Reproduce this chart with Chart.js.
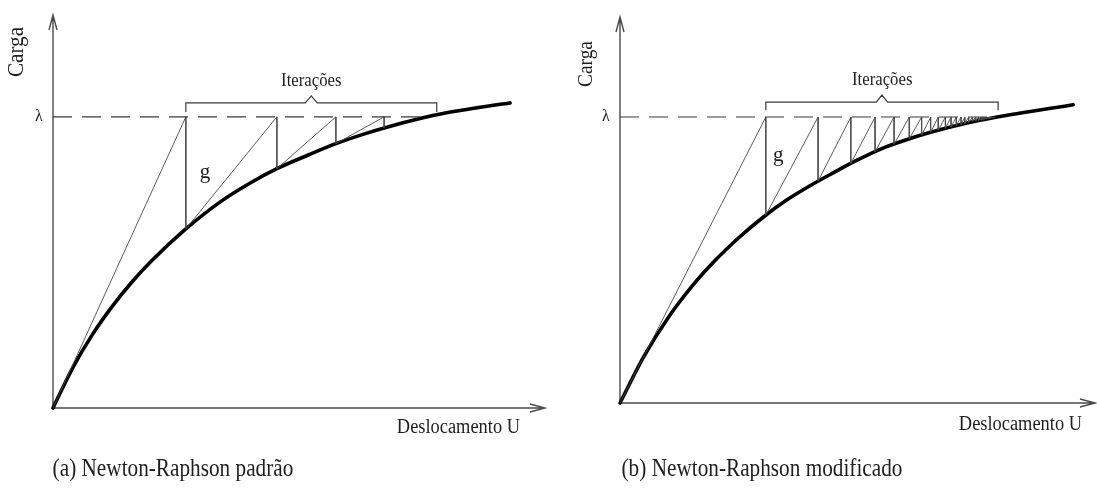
<!DOCTYPE html>
<html>
<head>
<meta charset="utf-8">
<script src="https://cdn.jsdelivr.net/npm/chart.js@4.4.1/dist/chart.umd.min.js"></script>
<style>
  html, body { margin: 0; padding: 0; background: #ffffff; }
  #wrap { position: relative; width: 1097px; height: 489px; overflow: hidden; background: #ffffff; }
  #panelA { position: absolute; left: 0; top: 0; }
  #panelB { position: absolute; left: 560px; top: 0; }
</style>
</head>
<body>
<div id="wrap">
  <canvas id="panelA" width="560" height="489"></canvas>
  <canvas id="panelB" width="537" height="489"></canvas>
</div>
<script>
// Target load level (λ)
const LAMBDA = 1.0;

// (a) Newton-Raphson padrão — equilibrium path (displacement U, load)
const curveU_a    = [0, 0.4, 0.8, 1.2, 1.6, 2.0, 2.7, 3.4, 4.0, 4.55, 5.2, 5.75, 6.3, 6.73, 7.5, 8.0, 8.6, 9.29];
const curveLoad_a = [0, 0.138, 0.252, 0.348, 0.432, 0.505, 0.615, 0.708, 0.772, 0.822, 0.870, 0.908, 0.940, 0.962, 0.996, 1.014, 1.031, 1.048];
// iterations: displacement reached at λ and load found on the path there
const iterU_a    = [2.70, 4.55, 5.75, 6.73];
const iterLoad_a = [0.615, 0.822, 0.908, 0.962];

// (b) Newton-Raphson modificado — equilibrium path
const curveU_b    = [0, 0.5, 1.0, 1.5, 2.0, 2.5, 3.0, 3.5, 4.0, 4.5, 5.0, 5.5, 6.0, 6.5, 7.0, 7.5, 8.0, 8.5, 9.0, 9.54];
const curveLoad_b = [0, 0.162, 0.295, 0.405, 0.498, 0.578, 0.648, 0.709, 0.760, 0.806, 0.850, 0.889, 0.919, 0.945, 0.967, 0.986, 1.002, 1.016, 1.029, 1.043];
// iterations with the initial stiffness kept constant
const iterU_b    = [3.07, 4.17, 4.86, 5.37, 5.77, 6.09, 6.35, 6.54, 6.70, 6.85, 6.97, 7.08, 7.18, 7.26, 7.34, 7.42,
                    7.49, 7.55, 7.60, 7.64, 7.68, 7.715, 7.745, 7.77, 7.795, 7.815, 7.835, 7.85, 7.865, 7.88, 7.89, 7.90, 7.91];
const iterLoad_b = [0.657, 0.776, 0.838, 0.879, 0.905, 0.924, 0.937, 0.9468, 0.9538, 0.9604, 0.9657, 0.970, 0.9738, 0.9769, 0.980, 0.983,
                    0.9856, 0.9876, 0.9892, 0.9905, 0.9918, 0.9929, 0.9938, 0.9946, 0.9954, 0.996, 0.9967, 0.9971, 0.9976, 0.9981, 0.9984, 0.9987, 0.999];

// Text
const yTitle = 'Carga';
const xTitle = 'Deslocamento U';
const lambdaLabel = 'λ';
const gLabel = 'g';
const bracketLabel = 'Iterações';
const captionA = '(a) Newton-Raphson padrão';
const captionB = '(b) Newton-Raphson modificado';

const FONT = '"Liberation Serif", "Times New Roman", serif';
const TEXT = '#1e1e1e';
const THIN = '#4a4a4a';

function toPoints(xs, ys) { return xs.map((x, i) => ({ x: x, y: ys[i] })); }

// Zig-zag path: from the origin up to λ, then down to the path, up again, ...
function iterationPath(us, loads) {
  const pts = [{ x: 0, y: 0 }];
  us.forEach((u, i) => { pts.push({ x: u, y: LAMBDA }); pts.push({ x: u, y: loads[i] }); });
  return pts;
}

// Horizontal brace with a small peak in the middle
function bracePath(u0, u1, yLine, yEnds, yPeak, notch) {
  const uc = (u0 + u1) / 2;
  return [
    { x: u0, y: yEnds }, { x: u0, y: yLine }, { x: uc - notch, y: yLine },
    { x: uc, y: yPeak }, { x: uc + notch, y: yLine }, { x: u1, y: yLine }, { x: u1, y: yEnds }
  ];
}

function drawText(ctx, s, x, y, size, align, sx, rot) {
  ctx.save();
  ctx.translate(x, y);
  if (rot) ctx.rotate(rot);
  ctx.scale(sx, 1);
  ctx.font = size + 'px ' + FONT;
  ctx.textAlign = align;
  ctx.textBaseline = 'middle';
  ctx.fillStyle = TEXT;
  ctx.fillText(s, 0, 0);
  ctx.restore();
}

// Axes with open arrow heads, drawn under the data
const axesPlugin = {
  id: 'arrowAxes',
  beforeDatasetsDraw(chart) {
    const { ctx, chartArea: a } = chart;
    ctx.save();
    ctx.strokeStyle = '#4a4a4a';
    ctx.lineWidth = 1.4;
    ctx.beginPath();
    ctx.moveTo(a.left, a.bottom); ctx.lineTo(a.left, a.top);
    ctx.moveTo(a.left, a.bottom); ctx.lineTo(a.right, a.bottom);
    ctx.moveTo(a.left - 4, a.top + 15); ctx.lineTo(a.left, a.top); ctx.lineTo(a.left + 4, a.top + 15);
    ctx.moveTo(a.right - 15, a.bottom - 4); ctx.lineTo(a.right, a.bottom); ctx.lineTo(a.right - 15, a.bottom + 4);
    ctx.stroke();
    ctx.restore();
  }
};

// Annotation texts positioned through the chart scales
const labelsPlugin = {
  id: 'labels',
  afterDatasetsDraw(chart, args, o) {
    const { ctx, chartArea: a, scales: { x, y } } = chart;
    drawText(ctx, lambdaLabel, a.left - 14, y.getPixelForValue(LAMBDA), 16, 'center', 1, 0);
    drawText(ctx, yTitle, a.left - o.yTitleDx, o.yTitleY, o.yTitleSize, 'center', 0.92, -Math.PI / 2);
    drawText(ctx, gLabel, x.getPixelForValue(o.g[0]), y.getPixelForValue(o.g[1]), 21, 'center', 1, 0);
    drawText(ctx, bracketLabel, x.getPixelForValue(o.brace[0]), y.getPixelForValue(o.brace[1]), 18, 'center', 0.93, 0);
    drawText(ctx, xTitle, o.xTitleRight, o.xTitleY, 20, 'right', 0.92, 0);
    drawText(ctx, o.caption, o.captionX, 469, 25, 'center', 0.85, 0);
  }
};

function makePanel(id, cfg) {
  const datasets = [
    { // dashed load level
      data: [{ x: 0, y: LAMBDA }, { x: cfg.dashEnd, y: LAMBDA }],
      borderColor: '#3a3a3a', borderWidth: 1.1, borderDash: [19, 10]
    },
    { // iterations
      data: iterationPath(cfg.iterU, cfg.iterLoad),
      borderColor: THIN, borderWidth: 0.9
    },
    { // brace over the iterations
      data: bracePath(cfg.braceFrom, cfg.braceTo, cfg.braceLine, cfg.braceEnds, cfg.bracePeak, 0.12),
      borderColor: '#3a3a3a', borderWidth: 1.2
    },
    { // load-displacement path
      data: toPoints(cfg.curveU, cfg.curveLoad),
      borderColor: '#000000', borderWidth: 3.6, cubicInterpolationMode: 'monotone',
      borderCapStyle: 'round'
    }
  ];
  datasets.forEach(d => { d.showLine = true; d.pointRadius = 0; d.clip = false; d.fill = false; });

  return new Chart(document.getElementById(id), {
    type: 'scatter',
    data: { datasets },
    options: {
      responsive: false,
      animation: false,
      devicePixelRatio: 1,
      layout: { padding: cfg.padding },
      plugins: {
        legend: { display: false },
        tooltip: { enabled: false },
        labels: cfg.labels
      },
      scales: {
        x: { type: 'linear', min: 0, max: 10, display: false },
        y: { type: 'linear', min: 0, max: 1.35, display: false }
      }
    },
    plugins: [axesPlugin, labelsPlugin]
  });
}

makePanel('panelA', {
  curveU: curveU_a, curveLoad: curveLoad_a, iterU: iterU_a, iterLoad: iterLoad_a,
  dashEnd: 7.55,
  braceFrom: 2.70, braceTo: 7.80, braceLine: 1.048, braceEnds: 1.017, bracePeak: 1.072,
  padding: { left: 53, right: 15, top: 15, bottom: 81 },
  labels: { g: [3.09, 0.81], brace: [5.25, 1.124], yTitleDx: 36, yTitleY: 52, yTitleSize: 23,
            xTitleRight: 520, xTitleY: 428, caption: captionA, captionX: 173 }
});

makePanel('panelB', {
  curveU: curveU_b, curveLoad: curveLoad_b, iterU: iterU_b, iterLoad: iterLoad_b,
  dashEnd: 7.9,
  braceFrom: 3.07, braceTo: 7.96, braceLine: 1.052, braceEnds: 1.024, bracePeak: 1.077,
  padding: { left: 60, right: 2, top: 17, bottom: 86 },
  labels: { g: [3.33, 0.867], brace: [5.52, 1.129], yTitleDx: 34, yTitleY: 64, yTitleSize: 21,
            xTitleRight: 522, xTitleY: 425, caption: captionB, captionX: 202 }
});
</script>
</body>
</html>
